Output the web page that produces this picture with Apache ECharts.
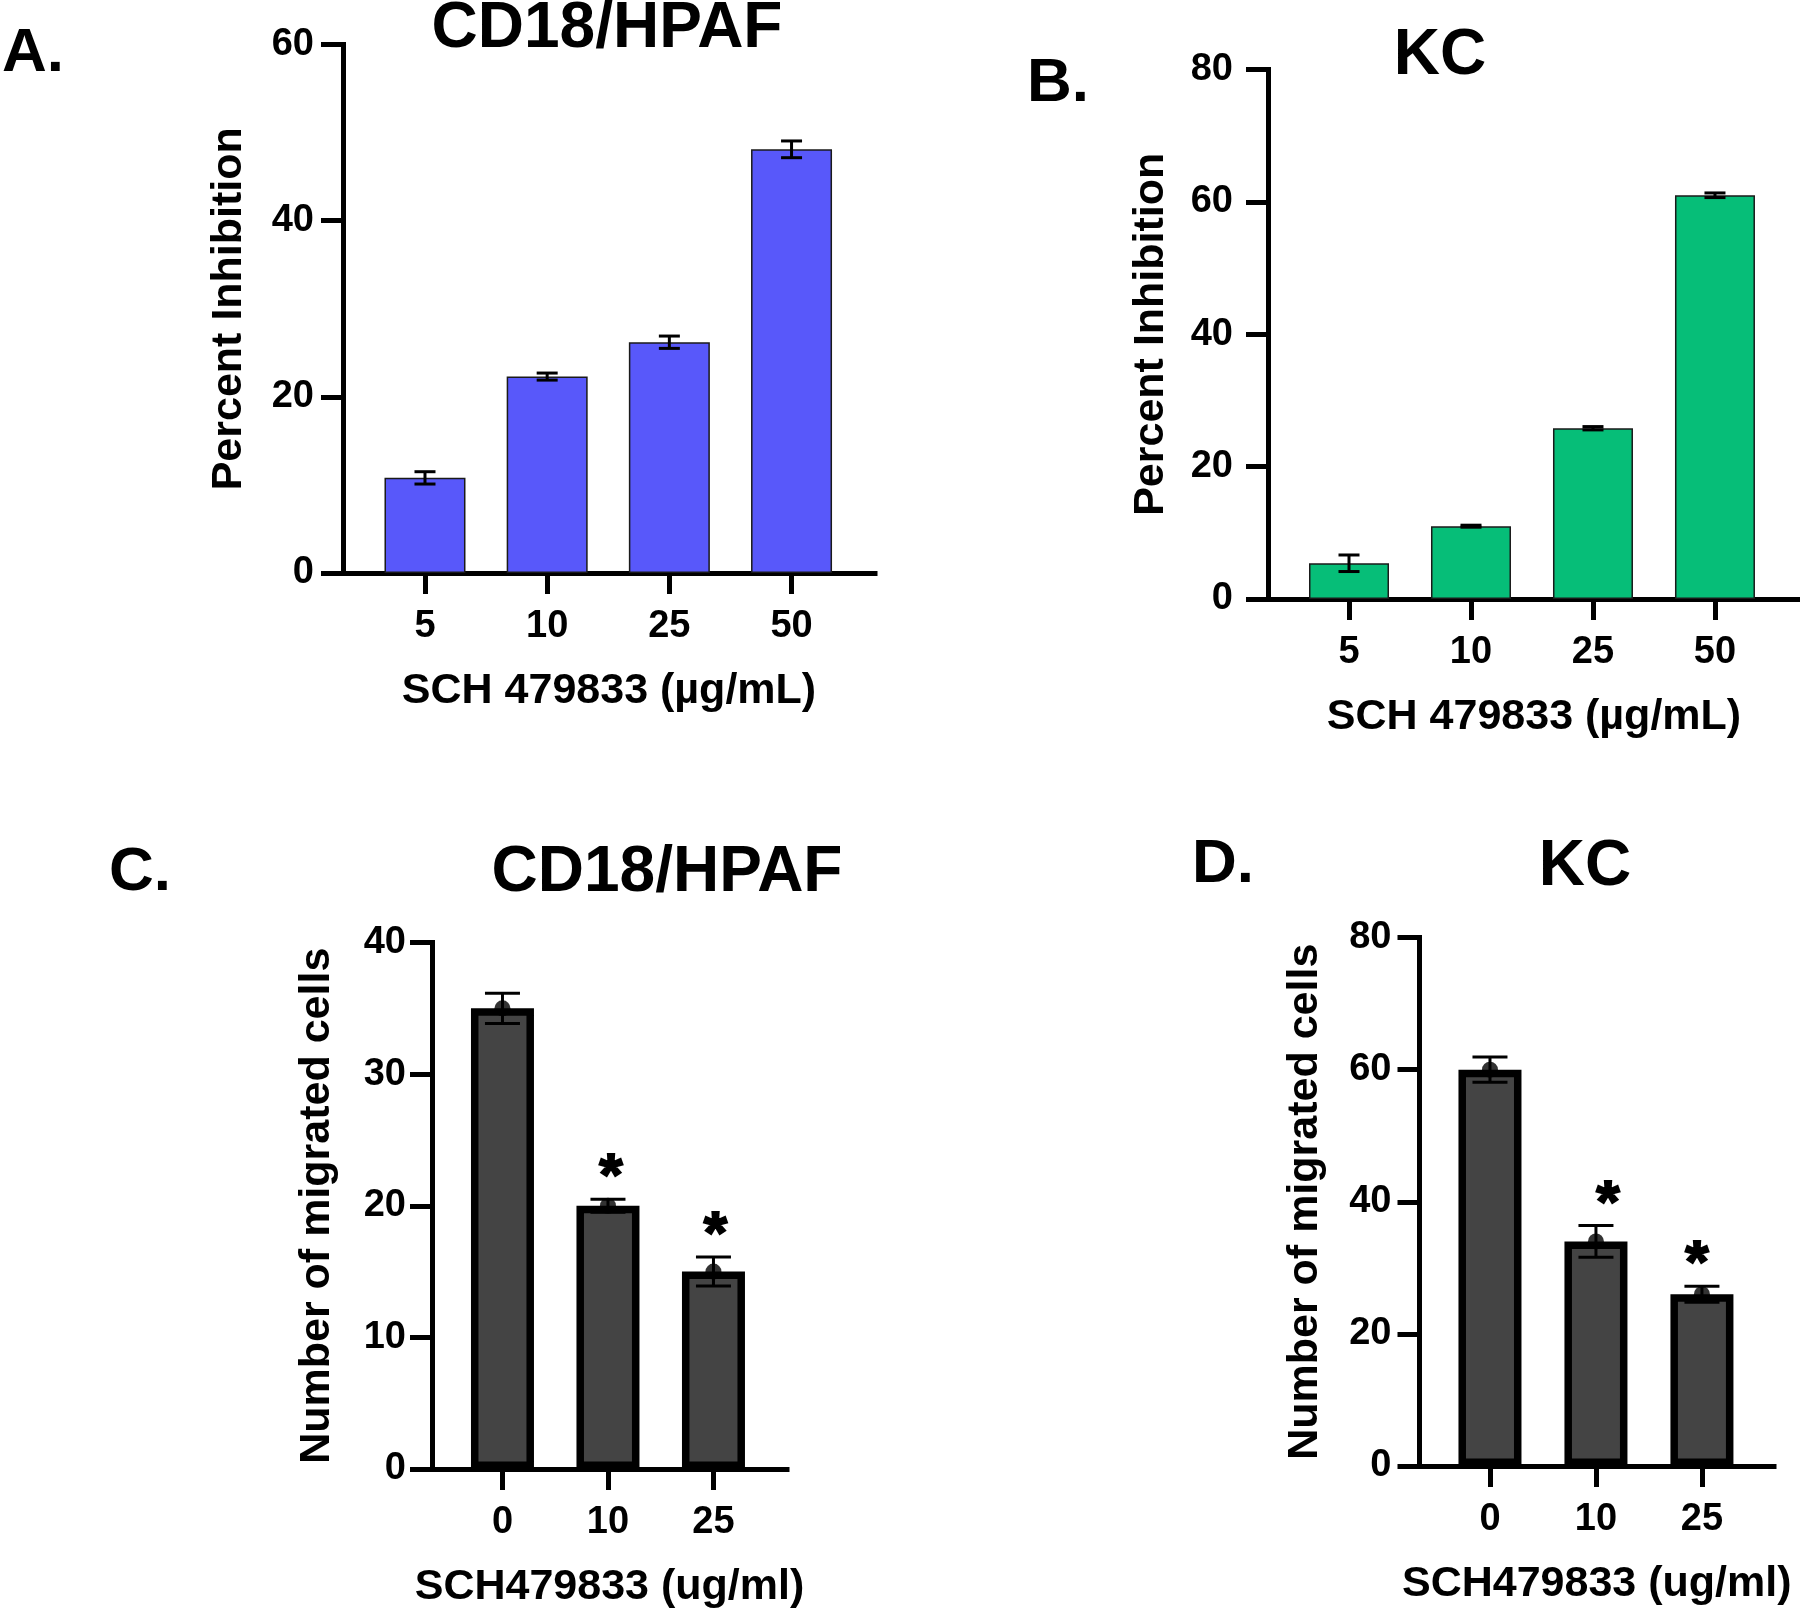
<!DOCTYPE html>
<html>
<head>
<meta charset="utf-8">
<script src="https://cdn.jsdelivr.net/npm/echarts@6/dist/echarts.min.js"></script>
<style>
  html, body { margin: 0; padding: 0; background: #fff; }
  #chart { width: 1800px; height: 1610px; }
</style>
</head>
<body>
<div id="chart"></div>
<script>
// ---------------- DATA ----------------
const catA = ['5', '10', '25', '50'];
const valA = [10.8, 22.3, 26.2, 48.1];
const errA = [0.7, 0.4, 0.7, 0.95];

const catB = ['5', '10', '25', '50'];
const valB = [5.4, 11.0, 25.8, 61.0];
const errB = [1.25, 0.15, 0.25, 0.35];

const catC = ['0', '10', '25'];
const valC = [35, 20, 15];
const errC = [1.15, 0.5, 1.1];
const sigC = ['', '*', '*'];

const catD = ['0', '10', '25'];
const valD = [60, 34, 26];
const errD = [1.9, 2.4, 1.2];
const sigD = ['', '*', '*'];

const yTitleTop = 'Percent Inhibition';
const xTitleTop = 'SCH 479833 (µg/mL)';
const yTitleBottom = 'Number of migrated cells';
const xTitleBottom = 'SCH479833 (ug/ml)';

// ---------------- STYLE / LAYOUT ----------------
const FONT = '"Liberation Sans", Arial, Helvetica, sans-serif';

const panels = [
  { cats: catA, vals: valA, errs: errA, sig: null,
    grid: { left: 343, top: 44.5, width: 532, height: 528.5 },
    xMin: -0.671, xMax: 3.683, yMax: 60, yInt: 20,
    barWidth: 81, color: '#5858FA', borderColor: '#1a1a1a', borderWidth: 1.5,
    capW: 21, dots: false, yLabelMargin: 29, yNameGap: 92, xNameGap: 97,
    yName: yTitleTop, xName: xTitleTop },
  { cats: catB, vals: valB, errs: errB, sig: null,
    grid: { left: 1268, top: 69.5, width: 532, height: 529.5 },
    xMin: -0.664, xMax: 3.697, yMax: 80, yInt: 20,
    barWidth: 80, color: '#06BE78', borderColor: '#1a1a1a', borderWidth: 1.5,
    capW: 21, dots: false, yLabelMargin: 35, yNameGap: 95, xNameGap: 97,
    yName: yTitleTop, xName: xTitleTop },
  { cats: catC, vals: valC, errs: errC, sig: sigC, sigShift: [0, 3, 2],
    grid: { left: 432, top: 942.5, width: 355, height: 528.5 },
    xMin: -0.668, xMax: 2.697, yMax: 40, yInt: 10,
    barWidth: 63, color: '#444444', borderColor: '#000', borderWidth: 7.5,
    capW: 35, dots: true, yLabelMargin: 26, yNameGap: 93, xNameGap: 97,
    yName: yTitleBottom, xName: xTitleBottom },
  { cats: catD, vals: valD, errs: errD, sig: sigD, sigShift: [0, 12, -5],
    grid: { left: 1419.5, top: 937.5, width: 354.5, height: 528.5 },
    xMin: -0.665, xMax: 2.68, yMax: 80, yInt: 20,
    barWidth: 63, color: '#444444', borderColor: '#000', borderWidth: 7.5,
    capW: 35, dots: true, yLabelMargin: 28, yNameGap: 93, xNameGap: 97,
    yName: yTitleBottom, xName: xTitleBottom }
];

const grids = [], xAxes = [], yAxes = [], series = [];

panels.forEach((p, k) => {
  grids.push(Object.assign({ containLabel: false }, p.grid));
  const idxs = p.cats.map((c, i) => i);
  xAxes.push({
    gridIndex: k, type: 'value', min: p.xMin, max: p.xMax,
    splitLine: { show: false },
    axisLine: { show: true, onZero: false, lineStyle: { color: '#000', width: 5, cap: 'square' } },
    axisTick: { show: true, customValues: idxs, length: 21, lineStyle: { color: '#000', width: 5 } },
    axisLabel: { show: true, customValues: idxs, margin: 35,
      formatter: v => p.cats[Math.round(v)],
      color: '#000', fontFamily: FONT, fontWeight: 'bold', fontSize: 38 },
    name: p.xName, nameLocation: 'middle', nameGap: p.xNameGap,
    nameTextStyle: { color: '#000', fontFamily: FONT, fontWeight: 'bold', fontSize: 43 }
  });
  yAxes.push({
    gridIndex: k, type: 'value', min: 0, max: p.yMax, interval: p.yInt,
    splitLine: { show: false },
    axisLine: { show: true, onZero: false, lineStyle: { color: '#000', width: 5, cap: 'square' } },
    axisTick: { show: true, length: 22, lineStyle: { color: '#000', width: 5 } },
    axisLabel: { show: true, margin: p.yLabelMargin, color: '#000', fontFamily: FONT,
      fontWeight: 'bold', fontSize: 38 },
    name: p.yName, nameLocation: 'middle', nameGap: p.yNameGap, nameRotate: 90,
    nameTextStyle: { color: '#000', fontFamily: FONT, fontWeight: 'bold', fontSize: 43 }
  });

  // bars
  series.push({
    type: 'bar', xAxisIndex: k, yAxisIndex: k, z: 2,
    barWidth: p.barWidth,
    itemStyle: { color: p.color, borderColor: p.borderColor, borderWidth: p.borderWidth },
    data: p.vals.map((v, i) => [i, v]),
    silent: true, animation: false
  });

  // error bars
  const capW = p.capW;
  series.push({
    type: 'custom', xAxisIndex: k, yAxisIndex: k, z: 5,
    dimensions: ['x', 'y', 'err'], encode: { x: 0, y: 1 },
    data: p.vals.map((v, i) => [i, v, p.errs[i]]),
    renderItem: function (params, api) {
      const x = api.value(0), m = api.value(1), e = api.value(2);
      const t = api.coord([x, m + e]);
      const b = api.coord([x, m - e]);
      const st = { stroke: '#000', lineWidth: 3 };
      return {
        type: 'group',
        children: [
          { type: 'line', shape: { x1: t[0], y1: t[1], x2: b[0], y2: b[1] }, style: st },
          { type: 'line', shape: { x1: t[0] - capW / 2, y1: t[1], x2: t[0] + capW / 2, y2: t[1] }, style: st },
          { type: 'line', shape: { x1: b[0] - capW / 2, y1: b[1], x2: b[0] + capW / 2, y2: b[1] }, style: st }
        ]
      };
    },
    silent: true, animation: false
  });

  if (p.dots) {
    series.push({
      type: 'scatter', xAxisIndex: k, yAxisIndex: k, z: 6,
      symbol: 'circle', symbolSize: 16,
      itemStyle: { color: '#000' },
      data: p.vals.map((v, i) => [i, v]),
      silent: true, animation: false
    });
  }
  if (p.sig) {
    series.push({
      type: 'scatter', xAxisIndex: k, yAxisIndex: k, z: 7,
      symbolSize: 1, itemStyle: { color: 'rgba(0,0,0,0)' },
      data: p.vals.map((v, i) => ({
        value: [i, v + p.errs[i]],
        label: { offset: [p.sigShift[i], 0] }
      })),
      label: { show: true, position: 'top', distance: -10,
        formatter: q => p.sig[q.dataIndex],
        color: '#000', opacity: 1, textBorderColor: '#000', textBorderWidth: 2,
        fontFamily: FONT, fontWeight: 'bold', fontSize: 60 },
      silent: true, animation: false
    });
  }
});

// panel letters & titles
function txt(text, x, y, size, align) {
  return { type: 'text', x: x, y: y, z: 10,
    style: { text: text, fill: '#000', font: 'bold ' + size + 'px ' + FONT,
      align: align, verticalAlign: 'middle', textAlign: align, textVerticalAlign: 'middle' } };
}
const graphics = [
  txt('A.', 2, 54, 62, 'left'),
  txt('CD18/HPAF', 607, 29, 64, 'center'),
  txt('B.', 1027, 84, 62, 'left'),
  txt('KC', 1440, 56, 64, 'center'),
  txt('C.', 109, 873, 62, 'left'),
  txt('CD18/HPAF', 667, 873, 64, 'center'),
  txt('D.', 1192, 865, 62, 'left'),
  txt('KC', 1585, 867, 64, 'center')
];

const chart = echarts.init(document.getElementById('chart'), null, { renderer: 'canvas' });
chart.setOption({
  animation: false,
  backgroundColor: '#fff',
  grid: grids, xAxis: xAxes, yAxis: yAxes, series: series,
  graphic: graphics
});
</script>
</body>
</html>
